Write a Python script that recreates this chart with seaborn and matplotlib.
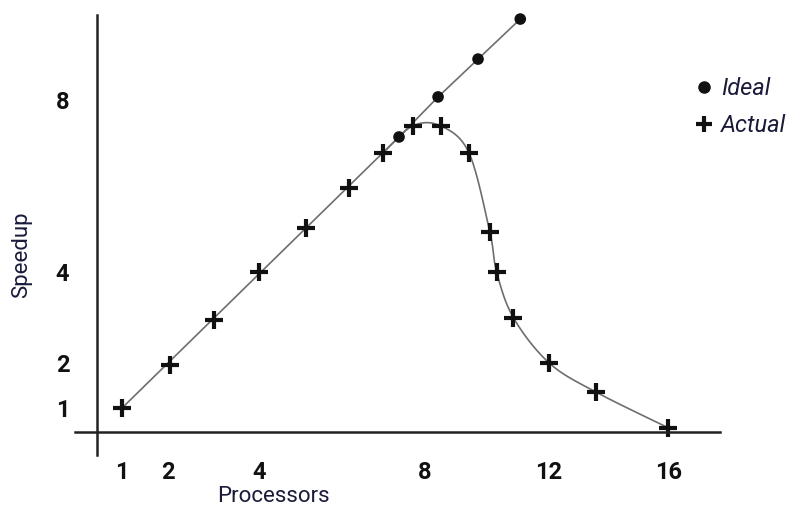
import numpy as np
import pandas as pd
import seaborn as sns
import matplotlib.pyplot as plt
from matplotlib.lines import Line2D

# Values (positions along the drawn axes, in speedup units)
ideal_x = [7.1, 7.96, 8.84, 9.77]
ideal_y = [7.16, 8.07, 8.93, 9.84]

actual_x = [1, 2.05, 3.03, 4.02, 5.05, 6.0, 6.75, 7.4, 8.02, 8.64, 9.1, 9.25,
            9.62, 10.41, 11.44, 13.03]
actual_y = [1, 1.98, 3.0, 4.09, 5.09, 6.0, 6.8, 7.41, 7.41, 6.8, 5.0, 4.09,
            3.05, 2.02, 1.36, 0.55]

# The tick labels on the original are not evenly spaced
xtick_pos = [1, 2.01, 4.02, 7.67, 10.4, 13.03]
xtick_labels = ["1", "2", "4", "8", "12", "16"]
ytick_pos = [1, 2.02, 4.09, 8.0]
ytick_labels = ["1", "2", "4", "8"]

ideal = pd.DataFrame({"x": ideal_x, "y": ideal_y})
actual = pd.DataFrame({"x": actual_x, "y": actual_y})
# ideal line starts at the first (shared) point
ideal_line = pd.concat([actual.iloc[:1], ideal], ignore_index=True)

sns.set_style("white")
plt.rcParams["font.family"] = ["Roboto", "DejaVu Sans"]

fig = plt.figure(figsize=(7.9, 5.14), dpi=100)
ax = fig.add_axes([0, 0, 1, 1])
ax.set_xlim(-1.687, 15.71)
ax.set_ylim(-1.409, 10.273)

line_col = "#6e6e6e"

sns.lineplot(data=ideal_line, x="x", y="y", ax=ax, color=line_col, lw=1.2,
             sort=False, zorder=2)


# Actual: smooth curve through the crosses (Catmull-Rom, drawing only)
def smooth(xs, ys, n=30):
    p = np.column_stack([xs, ys])
    p = np.vstack([p[0], p, p[-1]])
    out = []
    for i in range(1, len(p) - 2):
        p0, p1, p2, p3 = p[i - 1], p[i], p[i + 1], p[i + 2]
        t = np.linspace(0, 1, n)[:, None]
        out.append(0.5 * (2 * p1 + (-p0 + p2) * t
                          + (2 * p0 - 5 * p1 + 4 * p2 - p3) * t ** 2
                          + (-p0 + 3 * p1 - 3 * p2 + p3) * t ** 3))
    out = np.vstack(out)
    return out[:, 0], out[:, 1]


cx, cy = smooth(actual_x[6:], actual_y[6:])
ax.plot(cx, cy, color=line_col, lw=1.2, zorder=2)

sns.scatterplot(data=ideal, x="x", y="y", ax=ax, marker="o", s=70,
                color="#111111", edgecolor="none", zorder=3)
sns.scatterplot(data=actual, x="x", y="y", ax=ax, marker="+", s=150,
                color="#111111", linewidth=3, zorder=4)

# Axes drawn as crossing lines
for side in ["top", "right"]:
    ax.spines[side].set_visible(False)
ax.spines["left"].set_position(("data", 0.45))
ax.spines["left"].set_bounds(-0.07, 9.93)
ax.spines["bottom"].set_position(("data", 0.45))
ax.spines["bottom"].set_bounds(-0.03, 14.17)
for side in ["left", "bottom"]:
    ax.spines[side].set_linewidth(1.8)
    ax.spines[side].set_color("#222222")
    ax.spines[side].set_zorder(5)

ax.set_xticks(xtick_pos, xtick_labels)
ax.set_yticks(ytick_pos, ytick_labels)
ax.tick_params(axis="x", length=0, pad=21, labelsize=17, labelcolor="#111111")
ax.tick_params(axis="y", length=0, pad=20, labelsize=17, labelcolor="#111111")
for lab in ax.get_xticklabels() + ax.get_yticklabels():
    lab.set_fontweight("bold")

ax.set_xlabel("")
ax.set_ylabel("")
fig.text(273 / 790, 1 - 497 / 514, "Processors", ha="center", va="center",
         fontsize=16, color="#1a1a3a")
fig.text(22 / 790, 1 - 255 / 514, "Speedup", ha="center", va="center",
         rotation=90, fontsize=16, color="#1a1a3a")

handles = [
    Line2D([], [], marker="o", ls="none", color="#111111", markersize=8),
    Line2D([], [], marker="+", ls="none", color="#111111", markersize=12,
           markeredgewidth=3),
]
leg = ax.legend(handles, ["Ideal", "Actual"], loc="upper left",
                bbox_to_anchor=(690 / 790, 1 - 77 / 514), frameon=False,
                prop={"style": "italic", "size": 17}, handletextpad=0.1,
                handlelength=1.2, labelspacing=0.6, borderaxespad=0,
                borderpad=0)
for t in leg.get_texts():
    t.set_color("#1a1a3a")

fig.savefig("out.png", dpi=100)
plt.close(fig)
